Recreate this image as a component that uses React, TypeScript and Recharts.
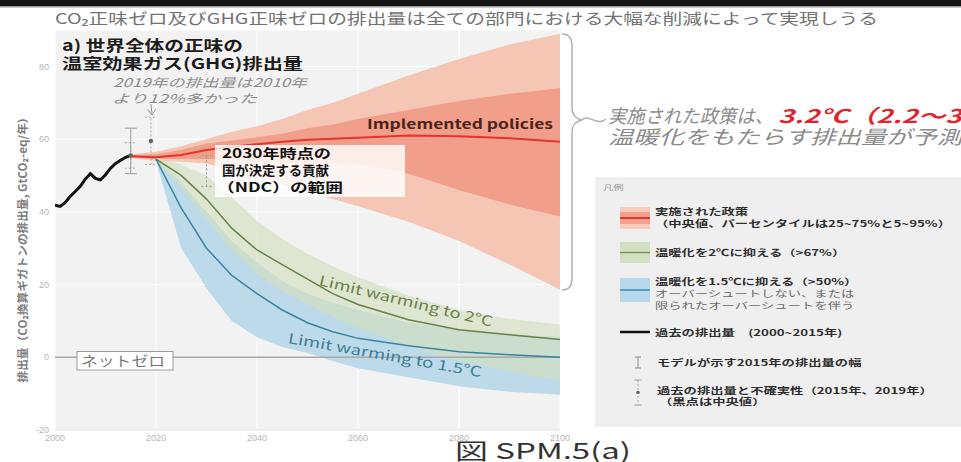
import React from "react";
import {
  ComposedChart,
  Area,
  Line,
  Scatter,
  ErrorBar,
  XAxis,
  YAxis,
  CartesianGrid,
  ReferenceLine,
} from "recharts";

// Historical net GHG emissions (GtCO2-eq/yr)
const historyYears = [2000, 2001, 2002, 2003, 2004, 2005, 2006, 2007, 2008, 2009, 2010, 2011, 2012, 2013, 2014, 2015];
const historyEmissions = [41.8, 41.5, 42.5, 44.2, 45.6, 47.0, 49.0, 50.5, 49.2, 48.8, 50.2, 52.0, 53.3, 54.2, 55.0, 55.5];

// Implemented policies: median, 25-75% and 5-95% ranges
const policyYears = [2015, 2020, 2025, 2030, 2035, 2040, 2045, 2050, 2055, 2060, 2070, 2080, 2090, 2100];
const policyMedian = [55.3, 55.0, 55.6, 57.0, 57.8, 58.6, 59.3, 59.8, 60.1, 60.4, 61.0, 60.8, 60.2, 59.3];
const policyP25 = [55.0, 54.5, 54.5, 54.5, 54.3, 54.0, 53.8, 53.6, 53.5, 53.3, 50.5, 46.0, 42.0, 38.7];
const policyP75 = [55.6, 55.8, 57.0, 58.8, 59.6, 60.5, 61.5, 63.0, 64.0, 65.5, 68.0, 70.5, 72.5, 74.0];
const policyP5 = [54.8, 54.0, 53.8, 53.3, 51.5, 49.5, 47.5, 45.5, 43.5, 41.5, 37.3, 32.0, 25.5, 18.6];
const policyP95 = [55.8, 56.5, 58.0, 60.0, 62.0, 63.5, 65.5, 68.0, 70.0, 72.5, 77.5, 82.0, 86.0, 89.0];

// Pathways limiting warming to 2°C and 1.5°C
const pathwayYears = [2020, 2025, 2030, 2035, 2040, 2045, 2050, 2055, 2060, 2070, 2080, 2090, 2100];
const limit2Median = [54.5, 50.0, 43.5, 35.5, 29.5, 25.5, 21.5, 17.5, 14.5, 10.3, 7.6, 6.2, 4.9];
const limit2Low = [54.0, 46.5, 38.0, 29.5, 23.0, 18.0, 14.5, 11.0, 8.0, 3.0, -1.0, -4.0, -6.5];
const limit2High = [55.0, 53.0, 50.0, 44.0, 37.5, 32.5, 28.5, 25.0, 22.0, 17.0, 13.0, 10.5, 9.0];
const limit15Median = [54.5, 41.0, 30.0, 22.5, 17.5, 13.0, 9.5, 7.0, 5.2, 3.2, 1.5, 0.7, 0.0];
const limit15Low = [54.0, 30.0, 19.0, 10.0, 5.5, 2.8, 1.2, -1.0, -3.0, -5.5, -8.0, -9.5, -10.3];
const limit15High = [55.0, 48.0, 40.0, 32.0, 26.0, 21.0, 17.5, 15.0, 13.0, 9.5, 7.5, 6.5, 5.5];

// Ranges drawn as error bars
const modelRange2015 = [{ year: 2015, low: 50.5, high: 63.0 }];
const historicalRanges = [
  { year: 2015, median: 55.5, low: 52.0, high: 59.0 },
  { year: 2019, median: 59.5, low: 53.0, high: 66.0 },
];
const ndcRange2030 = [{ year: 2030, low: 47.0, high: 55.5 }];

const xTicks = [2000, 2020, 2040, 2060, 2080, 2100];
const yTicks = [-20, 0, 20, 40, 60, 80];

type Row = { year: number; [key: string]: number | number[] };
const byYear = new Map<number, Row>();
const put = (year: number, key: string, value: number | number[]) => {
  const row = byYear.get(year) ?? { year };
  row[key] = value;
  byYear.set(year, row);
};
historyYears.forEach((y, i) => put(y, "history", historyEmissions[i]));
policyYears.forEach((y, i) => {
  put(y, "policy", policyMedian[i]);
  put(y, "policyInner", [policyP25[i], policyP75[i]]);
  put(y, "policyOuter", [policyP5[i], policyP95[i]]);
});
pathwayYears.forEach((y, i) => {
  put(y, "limit2", limit2Median[i]);
  put(y, "limit2Band", [limit2Low[i], limit2High[i]]);
  put(y, "limit15", limit15Median[i]);
  put(y, "limit15Band", [limit15Low[i], limit15High[i]]);
});
const rows = [...byYear.values()].sort((a, b) => a.year - b.year);

const toBar = (r: { year: number; low: number; high: number; median?: number }) => {
  const mid = r.median ?? (r.low + r.high) / 2;
  return { year: r.year, mid, err: [mid - r.low, r.high - mid] };
};
const modelBars = modelRange2015.map(toBar);
const historyBars = historicalRanges.map(toBar);
const ndcBars = ndcRange2030.map(toBar);

const FONT = "'Noto Sans CJK JP', 'Noto Sans', sans-serif";

// text squeezed/stretched to a given width
const Fit = ({ x, y, w, size, children, ...rest }: any) => (
  <text x={x} y={y} textLength={w} lengthAdjust="spacingAndGlyphs" fontSize={size} fontFamily={FONT} {...rest}>
    {children}
  </text>
);

// text widened by a fixed factor
const Wide = ({ x, y, size, sx = 1.48, children, ...rest }: any) => (
  <text transform={`translate(${x} ${y}) scale(${sx} 1)`} fontSize={size} fontFamily={FONT} {...rest}>
    {children}
  </text>
);

const noDot = () => <g />;
const medianDot = (p: any) => <circle cx={p.cx} cy={p.cy} r={2.2} fill="#666" />;

const Overlay = () => (
  <svg width={961} height={462} style={{ position: "absolute", left: 0, top: 0, pointerEvents: "none" }}>
    <rect x={0} y={0} width={961} height={6} fill="#151515" />
    <rect x={0} y={6} width={961} height={1.5} fill="#9a9a9a" />

    <Fit x={55} y={23.5} w={823} size={15} fill="#727272">
      CO₂正味ゼロ及びGHG正味ゼロの排出量は全ての部門における大幅な削減によって実現しうる
    </Fit>

    <Fit x={62} y={50.5} w={181} size={15} fontWeight="bold" fill="#1c1c1c">a) 世界全体の正味の</Fit>
    <Fit x={62} y={68.5} w={241} size={15} fontWeight="bold" fill="#1c1c1c">温室効果ガス(GHG)排出量</Fit>
    <Fit x={113} y={86.5} w={194} size={12} fontStyle="italic" fill="#8d8d8d">2019年の排出量は2010年</Fit>
    <Fit x={112} y={102.5} w={145} size={12} fontStyle="italic" fill="#8d8d8d">より12%多かった</Fit>
    <path d="M151 104 L152 115 M147.5 109.5 L152 115 L156 108.5" stroke="#999" strokeWidth={1} fill="none" />

    <text
      x={22}
      y={247}
      transform="rotate(-90 22 247)"
      textAnchor="middle"
      dominantBaseline="central"
      textLength={271}
      lengthAdjust="spacingAndGlyphs"
      fontSize={11}
      fontWeight="bold"
      fontFamily={FONT}
      fill="#7c7c7c"
    >
      排出量（CO₂換算ギガトンの排出量, GtCO₂-eq/年）
    </text>

    <Fit x={367} y={129} w={186} size={13} fontWeight="bold" fill="#4b2419">Implemented policies</Fit>

    <rect x={215} y={145} width={190} height={52} fill="#ffffff" fillOpacity={0.82} />
    <Fit x={222} y={158} w={109} size={13} fontWeight="bold" fill="#111">2030年時点の</Fit>
    <Fit x={222} y={175} w={107} size={13} fontWeight="bold" fill="#111">国が決定する貢献</Fit>
    <Fit x={217} y={192} w={126} size={13} fontWeight="bold" fill="#111">（NDC）の範囲</Fit>

    <Fit x={406} y={306} w={178} size={14} fill="#6f7f4a" textAnchor="middle" transform="rotate(13.6 406 301)">
      Limit warming to 2°C
    </Fit>
    <Fit x={385} y={360} w={196} size={14} fill="#3f7f95" textAnchor="middle" transform="rotate(10 385 355)">
      Limit warming to 1.5°C
    </Fit>

    <rect x={77} y={351.5} width={96} height={18.5} fill="#ffffff" stroke="#9a9a9a" strokeWidth={1} />
    <Fit x={81} y={366} w={84} size={14} fill="#7a7a7a">ネットゼロ</Fit>

    <path
      d="M562 34 Q572 34 572 46 L572 108 Q572 118 582 120 Q572 122 572 132 L572 278 Q572 290 562 290"
      stroke="#b0b0b0"
      strokeWidth={1.5}
      fill="none"
    />
    <path d="M582 120 C588 113 597 127 606 119" stroke="#b0b0b0" strokeWidth={1.5} fill="none" />
    <Fit x={608} y={123} w={165} size={19} fontStyle="italic" fill="#8a8a8a">実施された政策は、</Fit>
    <Wide x={778} y={123} size={19} sx={1.45} fontStyle="italic" fontWeight="bold" fill="#e4222d">
      3.2°C（2.2～3.5°C）
    </Wide>
    <Fit x={608} y={144} w={430} size={19} fontStyle="italic" fill="#8a8a8a">温暖化をもたらす排出量が予測される</Fit>

    {/* legend */}
    <rect x={595} y={177} width={366} height={250} fill="#efefef" />
    <Wide x={603} y={190} size={7} fill="#9a9a9a">凡例</Wide>

    <rect x={620} y={207} width={30} height={22} fill="#f8cbbb" />
    <rect x={620} y={212} width={30} height={12} fill="#f2a18d" />
    <line x1={620} x2={650} y1={218} y2={218} stroke="#e5352c" strokeWidth={2} />
    <Wide x={655} y={215} size={9} fontWeight="bold" fill="#2e2e2e">実施された政策</Wide>
    <Wide x={655} y={227} size={9} fontWeight="bold" fill="#2e2e2e">（中央値、パーセンタイルは25~75%と5~95%）</Wide>

    <rect x={620} y={242} width={30} height={21} fill="#d3dfc2" />
    <line x1={620} x2={650} y1={252.5} y2={252.5} stroke="#7a9455" strokeWidth={1.5} />
    <Wide x={655} y={256} size={9} fontWeight="bold" fill="#2e2e2e">温暖化を2℃に抑える（&gt;67%）</Wide>

    <rect x={620} y={278} width={30} height={24} fill="#b6d8ea" />
    <line x1={620} x2={650} y1={290} y2={290} stroke="#3a8aae" strokeWidth={1.5} />
    <Wide x={655} y={285} size={9} fontWeight="bold" fill="#2e2e2e">温暖化を1.5℃に抑える（&gt;50%）</Wide>
    <Wide x={655} y={297} size={9} fill="#6a6a6a">オーバーシュートしない、または</Wide>
    <Wide x={655} y={309} size={9} fill="#6a6a6a">限られたオーバーシュートを伴う</Wide>

    <line x1={620} x2={650} y1={332} y2={332} stroke="#111" strokeWidth={2.5} />
    <Wide x={655} y={336} size={9} fontWeight="bold" fill="#2e2e2e">過去の排出量　(2000~2015年)</Wide>

    <path d="M638 357 V368 M635 357 H641 M635 368 H641" stroke="#888" strokeWidth={1} fill="none" />
    <Wide x={657} y={366} size={9} fontWeight="bold" fill="#2e2e2e">モデルが示す2015年の排出量の幅</Wide>

    <path d="M634.5 380 H641.5 M634.5 405 H641.5" stroke="#999" strokeWidth={1} />
    <line x1={638} x2={638} y1={380} y2={405} stroke="#aaa" strokeWidth={1} strokeDasharray="2 2" />
    <circle cx={638} cy={392.5} r={1.8} fill="#666" />
    <Wide x={657} y={394} size={9} fontWeight="bold" fill="#2e2e2e">過去の排出量と不確実性（2015年、2019年）</Wide>
    <Wide x={659} y={405} size={9} fontWeight="bold" fill="#2e2e2e">（黒点は中央値）</Wide>

    <Fit x={455} y={459} w={176} size={22} fill="#333">図 SPM.5(a)</Fit>
  </svg>
);

export default function App() {
  return (
    <div style={{ position: "absolute", left: 0, top: 0, width: 961, height: 462, overflow: "hidden", background: "#fff" }}>
      <ComposedChart width={961} height={462} data={rows} margin={{ top: 30, right: 401, bottom: 12, left: 35 }}>
        <CartesianGrid fill="#f2f2f2" stroke="#ffffff" strokeWidth={1} />
        <XAxis
          dataKey="year"
          type="number"
          domain={[2000, 2100]}
          ticks={xTicks}
          allowDataOverflow
          height={20}
          tickSize={0}
          tickMargin={5}
          axisLine={{ stroke: "#e0e0e0" }}
          tick={{ fontSize: 9, fill: "#b5b5b5", fontFamily: "Liberation Sans" }}
        />
        <YAxis
          type="number"
          domain={[-20, 90]}
          ticks={yTicks}
          allowDataOverflow
          width={20}
          tickSize={0}
          tickMargin={6}
          axisLine={false}
          tick={{ fontSize: 9, fill: "#b5b5b5", fontFamily: "Liberation Sans" }}
        />

        <ReferenceLine y={0} stroke="#a8a8a8" strokeWidth={1.5} />

        <Area dataKey="policyOuter" type="linear" fill="#f6c6b4" fillOpacity={1} stroke="none" connectNulls isAnimationActive={false} dot={false} activeDot={false} />
        <Area dataKey="policyInner" type="linear" fill="#f19e8a" fillOpacity={1} stroke="none" connectNulls isAnimationActive={false} dot={false} activeDot={false} />
        <Area dataKey="limit15Band" type="linear" fill="#aed3e6" fillOpacity={0.8} stroke="none" connectNulls isAnimationActive={false} dot={false} activeDot={false} />
        <Area dataKey="limit2Band" type="linear" fill="#d2dfbf" fillOpacity={0.65} stroke="none" connectNulls isAnimationActive={false} dot={false} activeDot={false} />

        <Line dataKey="policy" type="linear" stroke="#e4342b" strokeWidth={2} dot={false} activeDot={false} connectNulls isAnimationActive={false} />
        <Line dataKey="limit2" type="linear" stroke="#68824a" strokeWidth={1.5} dot={false} activeDot={false} connectNulls isAnimationActive={false} />
        <Line dataKey="limit15" type="linear" stroke="#3a859f" strokeWidth={1.5} dot={false} activeDot={false} connectNulls isAnimationActive={false} />
        <Line dataKey="history" type="linear" stroke="#111111" strokeWidth={3} dot={false} activeDot={false} connectNulls isAnimationActive={false} />

        <Scatter data={modelBars} dataKey="mid" shape={noDot} isAnimationActive={false}>
          <ErrorBar dataKey="err" direction="y" width={6} stroke="#9a9a9a" strokeWidth={1} />
        </Scatter>
        <Scatter data={historyBars} dataKey="mid" shape={medianDot} isAnimationActive={false}>
          <ErrorBar dataKey="err" direction="y" width={6} stroke="#a5a5a5" strokeWidth={1} strokeDasharray="2 2" />
        </Scatter>
        <Scatter data={ndcBars} dataKey="mid" shape={noDot} isAnimationActive={false}>
          <ErrorBar dataKey="err" direction="y" width={5} stroke="#999" strokeWidth={1} strokeDasharray="2 2" />
        </Scatter>
      </ComposedChart>
      <Overlay />
    </div>
  );
}
